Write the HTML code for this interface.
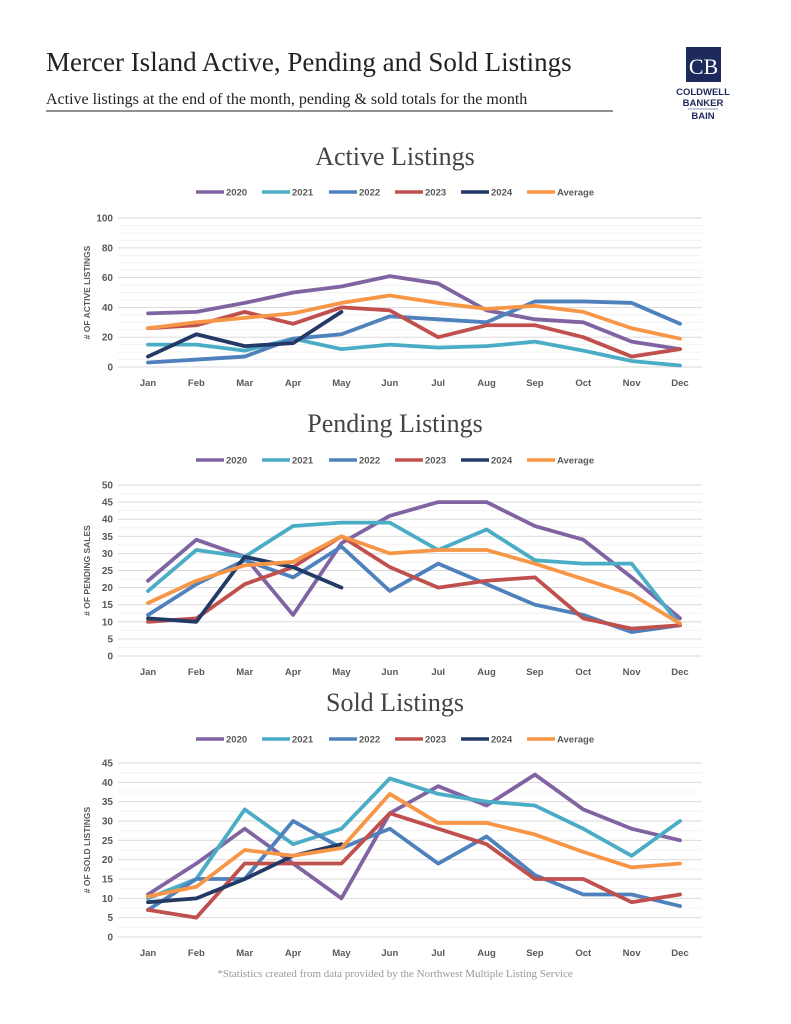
<!DOCTYPE html>
<html><head><meta charset="utf-8">
<style>
body{margin:0;background:#fff;width:791px;height:1024px;overflow:hidden;font-family:"Liberation Sans",sans-serif;}
svg{position:absolute;left:0;top:0;}
</style></head>
<body>
<svg id="s" width="791" height="1024" xmlns="http://www.w3.org/2000/svg">
<text x="46" y="71" font-family="Liberation Serif,serif" font-size="27" fill="#222">Mercer Island Active, Pending and Sold Listings</text>
<text x="46" y="104" font-family="Liberation Serif,serif" font-size="16" fill="#222">Active listings at the end of the month, pending &amp; sold totals for the month</text>
<line x1="46" y1="111" x2="613" y2="111" stroke="#222" stroke-width="1"/>
<g>
<rect x="686" y="47" width="35" height="35" fill="#1f2a5c"/>
<text x="703.5" y="74" text-anchor="middle" font-family="Liberation Serif,serif" font-size="22" fill="#fff">CB</text>
<text x="703" y="95" text-anchor="middle" font-size="9.5" font-weight="bold" fill="#1f2a5c">COLDWELL</text>
<text x="703" y="106" text-anchor="middle" font-size="9.5" font-weight="bold" fill="#1f2a5c">BANKER</text>
<line x1="688" y1="109" x2="718" y2="109" stroke="#1f2a5c" stroke-width="0.6"/>
<text x="703" y="119" text-anchor="middle" font-size="9.5" font-weight="bold" fill="#1f2a5c">BAIN</text>
</g>
<text x="395" y="977" text-anchor="middle" font-family="Liberation Serif,serif" font-size="11" fill="#999">*Statistics created from data provided by the Northwest Multiple Listing Service</text>
</svg>
<script>
const months=["Jan","Feb","Mar","Apr","May","Jun","Jul","Aug","Sep","Oct","Nov","Dec"];
const seriesNames=["2020","2021","2022","2023","2024","Average"];
const activeTicks=[0,20,40,60,80,100];
const pendingTicks=[0,5,10,15,20,25,30,35,40,45,50];
const soldTicks=[0,5,10,15,20,25,30,35,40,45];
const active2020=[36,37,43,50,54,61,56,38,32,30,17,12];
const active2021=[15,15,11,19,12,15,13,14,17,11,4,1];
const active2022=[3,5,7,19,22,34,32,30,44,44,43,29];
const active2023=[26,28,37,29,40,38,20,28,28,20,7,12];
const active2024=[7,22,14,16,37];
const activeAvg=[26,30,33,36,43,48,43,39,41,37,26,19];
const pending2020=[22,34,29,12,33,41,45,45,38,34,23,11];
const pending2021=[19,31,29,38,39,39,31,37,28,27,27,9];
const pending2022=[12,21,28,23,32,19,27,21,15,12,7,9];
const pending2023=[10,11,21,26,35,26,20,22,23,11,8,9];
const pending2024=[11,10,29,26,20];
const pendingAvg=[15.5,22,26.5,27.5,35,30,31,31,27,22.5,18,9.5];
const sold2020=[11,19,28,19,10,32,39,34,42,33,28,25];
const sold2021=[10,15,33,24,28,41,37,35,34,28,21,30];
const sold2022=[7,15,15,30,23,28,19,26,16,11,11,8];
const sold2023=[7,5,19,19,19,32,28,24,15,15,9,11];
const sold2024=[9,10,15,21,24];
const soldAvg=[10.5,13,22.5,21,23,37,29.5,29.5,26.5,22,18,19];
const colors=["#8064a2","#4bacc6","#4f81bd","#c0504d","#243a66","#f79646"];
const NS="http://www.w3.org/2000/svg";
const svg=document.getElementById("s");
function mk(t,a,p){const e=document.createElementNS(NS,t);for(const k in a)e.setAttribute(k,a[k]);(p||svg).appendChild(e);return e;}
function chart(key,title,titleY,legendY,y0,y1,ticks,minor,ylabel,data){
  const g=mk("g",{});
  
  
  const tt=mk("text",{x:395,y:titleY,"text-anchor":"middle","font-family":"Liberation Serif,serif","font-size":26,fill:"#444"},g);
  tt.textContent=title;
  
  
  const xL=148,xR=680,max=ticks[ticks.length-1];
  const X=i=>xL+i*(xR-xL)/11;
  const Y=v=>y0-(v/max)*(y0-y1);
  const step=ticks[1]-ticks[0];
  for(let v=0;v<=max+1e-9;v+=step/minor){
    mk("line",{x1:118,x2:702,y1:Y(v),y2:Y(v),stroke:"#f0f0f0","stroke-width":0.8},g);
  }
  ticks.forEach(v=>{
    mk("line",{x1:118,x2:702,y1:Y(v),y2:Y(v),stroke:"#d9d9d9","stroke-width":0.9},g);
    const t=mk("text",{x:113,y:Y(v)+3.5,"text-anchor":"end","font-size":10,"font-weight":"bold",fill:"#595959"},g);
    t.textContent=v;
    
    
  });
  months.forEach((m,i)=>{
    const t=mk("text",{x:X(i),y:y0+19,"text-anchor":"middle","font-size":9.5,"font-weight":"bold",fill:"#595959"},g);
    t.textContent=m;
    
    
  });
  const yl=mk("text",{transform:`translate(90,${(y0+y1)/2}) rotate(-90)`,"text-anchor":"middle","font-size":8.5,"font-weight":"bold",fill:"#595959"},g);
  yl.textContent=ylabel;
  
  
  const lx=[196,262,329,395,461,527];
  seriesNames.forEach((n,i)=>{
    const lg=mk("g",{},g);
    
    
    mk("line",{x1:lx[i],x2:lx[i]+28,y1:legendY,y2:legendY,stroke:colors[i],"stroke-width":3.5},lg);
    const t=mk("text",{x:lx[i]+30,y:legendY+3.5,"font-size":9.5,"font-weight":"bold",fill:"#595959"},lg);
    t.textContent=n;
  });
  data.forEach((d,i)=>{
    const p=mk("polyline",{points:d.map((v,j)=>X(j)+","+Y(v)).join(" "),fill:"none",stroke:colors[i],"stroke-width":3.8,"stroke-linejoin":"round","stroke-linecap":"round"},g);
    
    
  });
}
chart("active","Active Listings",165,192,367,218,activeTicks,4,"# OF ACTIVE LISTINGS",[active2020,active2021,active2022,active2023,active2024,activeAvg]);
chart("pending","Pending Listings",432,460,656,485,pendingTicks,2,"# OF PENDING SALES",[pending2020,pending2021,pending2022,pending2023,pending2024,pendingAvg]);
chart("sold","Sold Listings",711,739,937,763,soldTicks,2,"# OF SOLD LISTINGS",[sold2020,sold2021,sold2022,sold2023,sold2024,soldAvg]);
</script>
</body></html>
